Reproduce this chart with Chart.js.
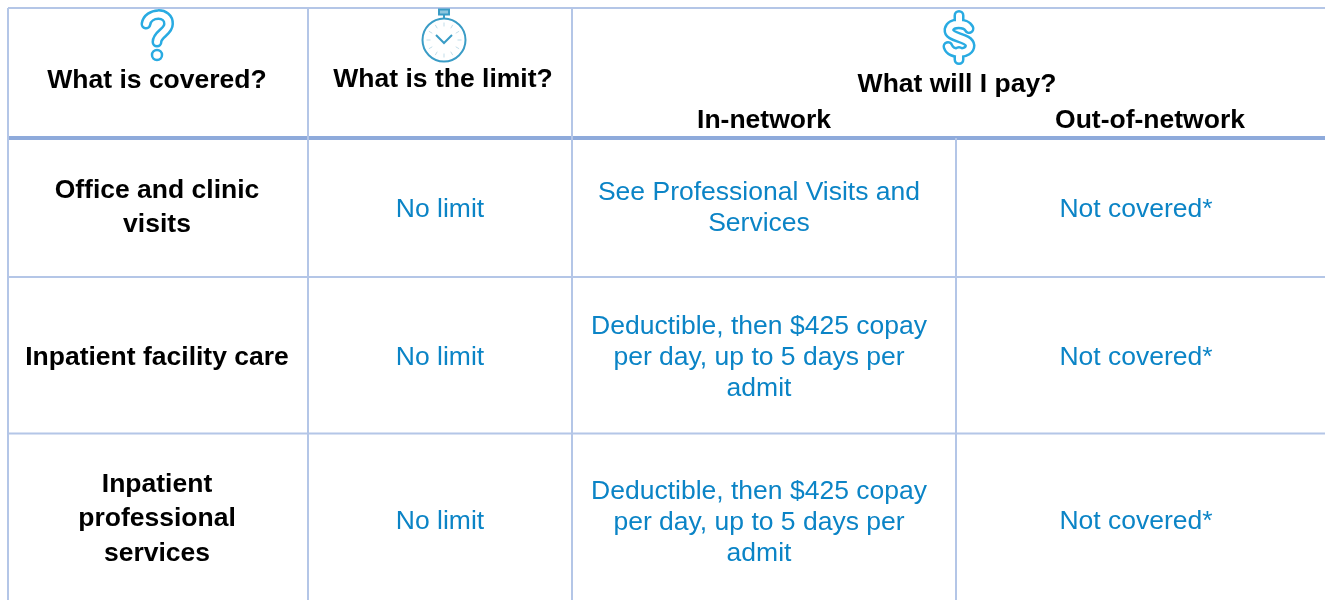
<!DOCTYPE html>
<html>
<head>
<meta charset="utf-8">
<script src="https://cdn.jsdelivr.net/npm/chart.js@4"></script>
<style>
    html, body { margin: 0; padding: 0; background: #fff; overflow: hidden; }
    canvas { display: block; }
</style>
</head>
<body>
<canvas id="coverageTable" width="1325" height="600"></canvas>
<script>
// Table content
const coveredRows = [
    ['Office and clinic', 'visits'],
    ['Inpatient facility care'],
    ['Inpatient', 'professional', 'services']
];
const limitRows = [['No limit'], ['No limit'], ['No limit']];
const inNetworkRows = [
    ['See Professional Visits and', 'Services'],
    ['Deductible, then $425 copay', 'per day, up to 5 days per', 'admit'],
    ['Deductible, then $425 copay', 'per day, up to 5 days per', 'admit']
];
const outNetworkRows = [['Not covered*'], ['Not covered*'], ['Not covered*']];

// Layout (scale units are canvas pixels)
const colEdges = [8, 308, 572, 956, 1325];
const rowEdges = [8, 138, 277, 433.5, 600];
const boldRowCentres = [207.5, 357.5, 519];
const limitRowCentres = [209.5, 357.5, 522];
const networkRowCentres = [208.5, 358, 522.5];
const colCentres = [157, 440, 759, 1136];

const GRID = '#b4c6e7';
const GRID_HEAVY = '#8eaadb';
const BLUE = '#0b84c6';
const ICON = '#29abe2';
const BOLD = 'bold 26.5px "Liberation Sans"';
const PLAIN = '26.5px "Liberation Sans"';

function segment(x1, y1, x2, y2, color, width) {
    return {
        type: 'line',
        data: [{ x: x1, y: y1 }, { x: x2, y: y2 }],
        borderColor: color,
        borderWidth: width,
        pointRadius: 0,
        fill: false
    };
}

function gridDatasets() {
    const bottom = rowEdges[4];
    const right = colEdges[4];
    return [
        segment(colEdges[0], rowEdges[0], right, rowEdges[0], GRID, 2),
        segment(colEdges[0], rowEdges[2], right, rowEdges[2], GRID, 2),
        segment(colEdges[0], rowEdges[3], right, rowEdges[3], GRID, 2),
        segment(colEdges[0], rowEdges[0], colEdges[0], bottom, GRID, 2),
        segment(colEdges[1], rowEdges[0], colEdges[1], bottom, GRID, 2),
        segment(colEdges[2], rowEdges[0], colEdges[2], bottom, GRID, 2),
        // the In-network / Out-of-network divider only starts under the header
        segment(colEdges[3], rowEdges[1], colEdges[3], bottom, GRID, 2),
        segment(colEdges[0], rowEdges[1], right, rowEdges[1], GRID_HEAVY, 4)
    ];
}

function drawCell(chart, lines, col, centreY, font, color, lineHeight) {
    const { ctx, scales } = chart;
    ctx.font = font;
    ctx.fillStyle = color;
    const x = scales.x.getPixelForValue(colCentres[col]);
    const start = centreY - (lines.length - 1) * lineHeight / 2;
    lines.forEach((line, i) => {
        ctx.fillText(line, x, scales.y.getPixelForValue(start + i * lineHeight));
    });
}

function drawHeaderText(chart, text, x, y) {
    const { ctx, scales } = chart;
    ctx.font = BOLD;
    ctx.fillStyle = '#000';
    ctx.fillText(text, scales.x.getPixelForValue(x), scales.y.getPixelForValue(y));
}

// Outline look: thick blue stroke with a thinner white one on top
function strokeOutlined(ctx, path) {
    ctx.lineCap = 'round';
    ctx.lineJoin = 'round';
    ctx.strokeStyle = ICON;
    ctx.lineWidth = 11;
    ctx.stroke(path);
    ctx.strokeStyle = '#fff';
    ctx.lineWidth = 6;
    ctx.stroke(path);
}

function drawQuestionIcon(chart, x, y) {
    const { ctx, scales } = chart;
    ctx.save();
    ctx.translate(scales.x.getPixelForValue(x), scales.y.getPixelForValue(y));
    ctx.filter = 'blur(0.6px)';
    const hook = new Path2D();
    hook.moveTo(-11, -11);
    hook.bezierCurveTo(-9, -23, 12, -24, 11.5, -11);
    hook.bezierCurveTo(11.5, -3, 0, -1, 0, 7);
    strokeOutlined(ctx, hook);
    ctx.strokeStyle = ICON;
    ctx.lineWidth = 2.5;
    ctx.beginPath();
    ctx.arc(0, 20, 5, 0, Math.PI * 2);
    ctx.stroke();
    ctx.restore();
}

function drawDollarIcon(chart, x, y) {
    const { ctx, scales } = chart;
    ctx.save();
    ctx.translate(scales.x.getPixelForValue(x), scales.y.getPixelForValue(y));
    ctx.filter = 'blur(0.6px)';
    const s = new Path2D();
    s.moveTo(10, -9);
    s.bezierCurveTo(7, -15, -8, -16, -10, -8);
    s.bezierCurveTo(-11, 1, 10, -1, 11, 8);
    s.bezierCurveTo(11, 17, -8, 18, -11, 9);
    s.moveTo(0, -14);
    s.lineTo(0, -22);
    s.moveTo(0, 14);
    s.lineTo(0, 22);
    strokeOutlined(ctx, s);
    ctx.restore();
}

function drawClockIcon(chart, x, y) {
    const { ctx, scales } = chart;
    const cx = scales.x.getPixelForValue(x);
    const cy = scales.y.getPixelForValue(y);
    const r = 21.5;
    ctx.save();
    ctx.filter = 'blur(0.4px)';
    ctx.strokeStyle = '#3a9cc6';
    ctx.lineWidth = 2;
    ctx.beginPath();
    ctx.arc(cx, cy, r, 0, Math.PI * 2);
    ctx.stroke();
    // crown
    ctx.fillStyle = '#8fc6de';
    ctx.fillRect(cx - 5, cy - r - 9, 10, 5);
    ctx.strokeRect(cx - 5, cy - r - 9, 10, 5);
    ctx.beginPath();
    ctx.moveTo(cx, cy - r - 4);
    ctx.lineTo(cx, cy - r);
    ctx.stroke();
    // hands
    ctx.beginPath();
    ctx.moveTo(cx - 8, cy - 5);
    ctx.lineTo(cx, cy + 3);
    ctx.lineTo(cx + 8, cy - 5);
    ctx.stroke();
    // hour marks
    ctx.strokeStyle = '#c3dde9';
    ctx.lineWidth = 1;
    for (let i = 0; i < 12; i++) {
        const a = i * Math.PI / 6;
        ctx.beginPath();
        ctx.moveTo(cx + Math.cos(a) * (r - 8), cy + Math.sin(a) * (r - 8));
        ctx.lineTo(cx + Math.cos(a) * (r - 4), cy + Math.sin(a) * (r - 4));
        ctx.stroke();
    }
    ctx.restore();
}

const tablePlugin = {
    id: 'tablePlugin',
    afterDatasetsDraw(chart) {
        const { ctx } = chart;
        ctx.save();
        ctx.textAlign = 'center';
        ctx.textBaseline = 'middle';

        drawQuestionIcon(chart, 157, 35);
        drawClockIcon(chart, 444, 40);
        drawDollarIcon(chart, 959, 37.5);

        drawHeaderText(chart, 'What is covered?', 157, 81);
        drawHeaderText(chart, 'What is the limit?', 443, 80);
        drawHeaderText(chart, 'What will I pay?', 957, 85);
        drawHeaderText(chart, 'In-network', 764, 121);
        drawHeaderText(chart, 'Out-of-network', 1150, 121);

        coveredRows.forEach((lines, row) => drawCell(chart, lines, 0, boldRowCentres[row], BOLD, '#000', 34.5));
        limitRows.forEach((lines, row) => drawCell(chart, lines, 1, limitRowCentres[row], PLAIN, BLUE, 31));
        inNetworkRows.forEach((lines, row) => drawCell(chart, lines, 2, networkRowCentres[row], PLAIN, BLUE, 31));
        outNetworkRows.forEach((lines, row) => drawCell(chart, lines, 3, limitRowCentres[row], PLAIN, BLUE, 31));
        ctx.restore();
    }
};

new Chart(document.getElementById('coverageTable').getContext('2d'), {
    type: 'scatter',
    data: { datasets: gridDatasets() },
    options: {
        responsive: false,
        animation: false,
        layout: { padding: 0 },
        plugins: { legend: { display: false }, tooltip: { enabled: false } },
        scales: {
            x: { type: 'linear', display: false, min: 0, max: 1325 },
            y: { type: 'linear', display: false, min: 0, max: 600, reverse: true }
        }
    },
    plugins: [tablePlugin]
});
</script>
</body>
</html>
